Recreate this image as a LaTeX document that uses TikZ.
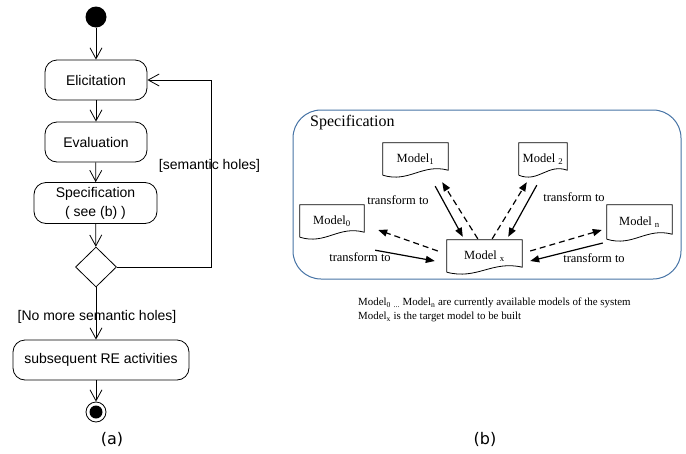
\documentclass[tikz,border=0pt]{standalone}
\usepackage{fontspec}
\setmainfont{Liberation Serif}
\setsansfont{Liberation Sans}
\newfontfamily\capfont{DejaVu Sans}
\usetikzlibrary{arrows.meta,shapes.geometric,calc}
\definecolor{specblue}{RGB}{70,115,165}
\begin{document}
\begin{tikzpicture}[x=1pt,y=-1pt,
  act/.style={draw, rounded corners=12pt, minimum height=40pt, inner sep=2pt,
    font=\sffamily\fontsize{14}{19}\selectfont, line width=0.8pt, align=center},
  flow/.style={draw, line width=0.8pt, -{Straight Barb[length=11pt,width=12pt]}},
  guard/.style={font=\sffamily\fontsize{14}{17}\selectfont, inner sep=0pt},
  doc/.style={inner sep=0pt, font=\fontsize{12.5}{14}\selectfont},
  docline/.style={draw, line width=0.8pt},
  tr/.style={line width=1.2pt, -{Triangle[length=9pt,width=7pt]}},
  trd/.style={tr, dash pattern=on 6pt off 4pt},
  trlabel/.style={font=\fontsize{12.5}{14}\selectfont, inner sep=0pt},
  caplabel/.style={font=\capfont\fontsize{16}{19}\selectfont, inner sep=0pt}
]
\useasboundingbox (0,0) rectangle (686,453);

% ---------- (a) ----------
\node[circle, fill=black, minimum size=21pt, inner sep=0pt] (init) at (96,17) {};
\node[act, minimum width=102pt] (elic) at (96,80) {Elicitation};
\node[act, minimum width=102pt] (eval) at (96,142) {Evaluation};
\node[act, minimum width=123pt, minimum height=41pt] (spec) at (95.5,203) {Specification\\( see (b) )};
\node[diamond, draw, line width=0.8pt, minimum width=41pt, minimum height=40pt, inner sep=0pt] (dec) at (96,267) {};
\node[act, minimum width=176pt] (sub) at (101,360) {subsequent RE activities};
\node[circle, draw, line width=0.8pt, minimum size=20pt, inner sep=0pt] (fin) at (96,412) {};
\fill (fin) circle[radius=6.5];
\coordinate (loop) at (211,267);

\draw[flow] (init) -- (elic);
\draw[flow] (elic) -- (eval);
\draw[flow] (eval) -- (spec);
\draw[flow] (spec) -- (dec);
\draw[flow] (dec) -- (dec |- sub.north);
\draw[flow] (sub.south -| fin) -- (fin);
\draw[flow] (dec.east) -- (loop) |- (elic.east);

\node[guard] (g1) at (209.5,166) {[semantic holes]};
\node[guard] (g2) at (97,317) {[No more semantic holes]};
\node[caplabel] (capa) at (112,439) {(a)};

% ---------- (b) ----------
\node[draw=specblue, line width=1pt, rounded corners=28pt, minimum width=388pt, minimum height=169pt] (specbox) at (487,194.5) {};
\node[anchor=west, inner sep=0pt, font=\fontsize{16}{19}\selectfont] (spectitle) at (310,123) {Specification};

\node[doc, minimum width=65pt, minimum height=32pt] (m1) at (415.5,159) {Model\textsubscript{1}};
\node[doc, minimum width=48pt, minimum height=32pt] (m2) at (543,159) {Model \textsubscript{2}};
\node[doc, minimum width=64pt, minimum height=32pt] (m0) at (332,221) {Model\textsubscript{0}};
\node[doc, minimum width=75pt, minimum height=32pt] (mx) at (484.5,256) {Model \textsubscript{x}};
\node[doc, minimum width=65pt, minimum height=34pt] (mn) at (639.5,222) {Model \textsubscript{n}};

\foreach \n in {m0,m1,m2,mx,mn}{
  \draw[docline] (\n.south west) -- (\n.north west) -- (\n.north east) -- ($(\n.south east)+(0,-5)$)
    .. controls ($(\n.south west)!0.6!(\n.south east)+(0,-12)$) and ($(\n.south west)!0.4!(\n.south east)+(0,8)$) .. (\n.south west);
}

% m1 <-> mx
\draw[tr]  ($(m1.south east)+(-13,11)$) -- ($(mx.north west)+(16,-3)$);
\draw[trd] ($(mx.north west)+(31,-1)$) -- ($(m1.south east)+(-6,7)$);
% m2 <-> mx
\draw[tr]  ($(m2.south west)+(18,10)$) -- ($(mx.north east)+(-14,-3)$);
\draw[trd] ($(mx.north east)+(-30,-1)$) -- ($(m2.south west)+(8,7)$);
% m0 <-> mx
\draw[trd] ($(mx.west)+(-9,-5)$) -- ($(m0.east)+(14,9)$);
\draw[tr]  ($(m0.south east)+(11,13)$) -- ($(mx.west)+(-12,5)$);
% mn <-> mx
\draw[trd] ($(mx.east)+(8,-5)$) -- ($(mn.west)+(-5,8)$);
\draw[tr]  ($(mn.west)+(-4,21)$) -- ($(mx.east)+(8,5)$);

\node[trlabel] (t1) at (398,200) {transform to};
\node[trlabel] (t2) at (574,197) {transform to};
\node[trlabel] (t0) at (360,257) {transform to};
\node[trlabel] (tn) at (594,258) {transform to};

\node[anchor=west, align=left, inner sep=0pt, font=\fontsize{10.9}{14}\selectfont] (note) at (358,310)
  {Model\textsubscript{0} \textsubscript{...} Model\textsubscript{n} are currently available models of the system\\
   Model\textsubscript{x} is the target model to be built};

\node[caplabel] (capb) at (485,439) {(b)};
\end{tikzpicture}
\end{document}
